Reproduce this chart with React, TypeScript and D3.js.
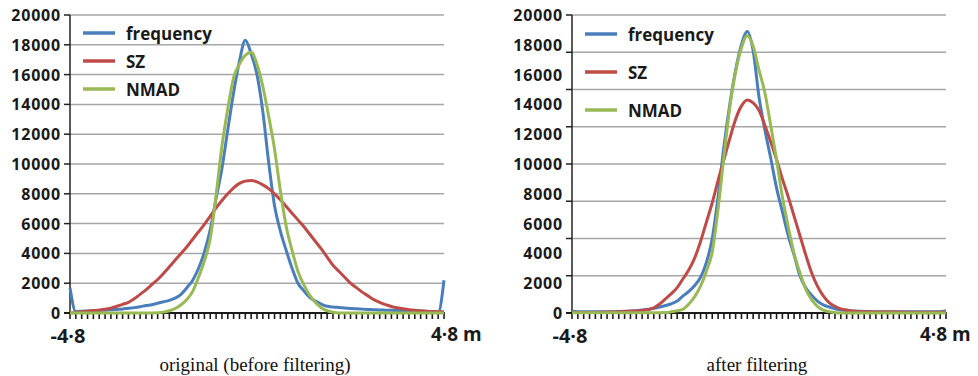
import React from "react";
import * as d3 from "d3";

// 65 bins from -4.8 m to 4.8 m
const bins = d3.range(65);
const yTicks = d3.range(0, 20001, 2000);
const seriesNames = ["frequency", "SZ", "NMAD"];
const seriesColors = ["#4a7ebb", "#be4b48", "#98b954"];

// original (before filtering)
const freqBefore = [
  1700, 100, 120, 140, 150, 170, 190, 210, 240, 270, 320, 360, 420, 500, 560, 650, 750, 850, 1000, 1250,
  1700, 2200, 3000, 4100, 5600, 7700, 9700, 12300, 14800, 16900, 18300, 17400, 16000, 13500, 10100, 7200, 5500, 4200, 3000, 2000,
  1500, 1050, 800, 600, 450, 400, 370, 340, 310, 280, 260, 240, 220, 200, 190, 180, 170, 160, 150, 140,
  130, 120, 60, 20, 2200,
];
const szBefore = [
  0, 30, 80, 120, 160, 200, 250, 330, 450, 580, 720, 950, 1250, 1550, 1900, 2250, 2650, 3100, 3550, 4000,
  4450, 4950, 5450, 5950, 6500, 7050, 7550, 8000, 8400, 8700, 8850, 8900, 8800, 8600, 8350, 8000, 7600, 7150, 6700, 6250,
  5800, 5300, 4800, 4300, 3750, 3200, 2800, 2400, 2000, 1700, 1400, 1150, 900, 720, 560, 440, 350, 280, 220, 180,
  150, 120, 100, 90, 80,
];
const nmadBefore = [
  0, 0, 0, 0, 0, 0, 0, 0, 0, 0, 0, 0, 0, 0, 0, 20, 60, 150, 300, 550,
  900, 1450, 2400, 3500, 5000, 7900, 11200, 13700, 15800, 16700, 17300, 17500, 16700, 15200, 13200, 11000, 8200, 5800, 4200, 2800,
  1900, 1200, 700, 350, 150, 50, 0, 0, 0, 0, 0, 0, 0, 0, 0, 0, 0, 0, 0, 0,
  0, 0, 0, 0, 0,
];

// after filtering
const freqAfter = [
  120, 90, 80, 80, 80, 80, 90, 90, 100, 110, 130, 150, 200, 250, 310, 400, 500, 620, 800, 1150,
  1450, 1850, 2400, 3400, 5000, 7800, 11200, 14000, 16300, 18000, 18900, 17600, 14500, 12300, 10400, 8400, 6800, 5200, 3900, 2500,
  1700, 1200, 800, 540, 400, 280, 200, 170, 140, 120, 100, 90, 80, 80, 80, 80, 80, 80, 80, 80,
  80, 80, 80, 80, 150,
];
const szAfter = [
  30, 30, 30, 40, 40, 50, 60, 70, 80, 100, 120, 140, 170, 220, 350, 600, 950, 1300, 1700, 2300,
  2900, 3700, 4800, 6100, 7400, 8900, 10300, 11700, 13000, 13900, 14300, 14100, 13600, 12600, 11500, 10300, 9000, 7800, 6500, 5200,
  3900, 2700, 1800, 1150, 700, 450, 280, 200, 130, 100, 80, 80, 70, 70, 60, 60, 60, 50, 50, 50,
  50, 50, 50, 50, 50,
];
const nmadAfter = [
  20, 20, 20, 20, 20, 20, 20, 20, 20, 20, 20, 20, 20, 20, 20, 20, 30, 80, 150, 250,
  600, 1100, 1800, 2800, 4100, 7000, 10500, 13800, 16200, 17800, 18600, 17900, 16300, 14800, 12600, 10300, 7800, 5800, 4000, 2700,
  1600, 900, 450, 200, 80, 30, 0, 0, 0, 0, 0, 0, 0, 0, 0, 0, 0, 0, 0, 0,
  0, 0, 0, 0, 0,
];

const sans = "'Open Sans', 'DejaVu Sans', sans-serif";

type PanelProps = {
  left: number;
  right: number;
  series: number[][];
  gridStep: number;
  legendTop: number;
  legendGap: number;
  caption: string;
  captionX: number;
  endLabelX: number;
};

const Panel = ({ left, right, series, gridStep, legendTop, legendGap, caption, captionX, endLabelX }: PanelProps) => {
  const x = d3.scaleLinear().domain([0, bins.length - 1]).range([left, right]);
  const y = d3.scaleLinear().domain([0, 20000]).range([313, 15]);
  const line = d3
    .line<number>()
    .x((_, i) => x(i))
    .y((d) => y(d))
    .curve(d3.curveMonotoneX);
  const grid = d3.range(gridStep, 20001, gridStep);

  return (
    <g>
      {grid.map((g) => (
        <g key={g}>
          <line x1={left} x2={right} y1={y(g)} y2={y(g)} stroke="#a6a6a6" strokeWidth={1.5} />
          <line x1={left - 6} x2={left} y1={y(g)} y2={y(g)} stroke="#222" strokeWidth={1.5} />
        </g>
      ))}
      {yTicks.map((t) => (
        <text
          key={t}
          x={left - 9}
          y={y(t)}
          textAnchor="end"
          dominantBaseline="central"
          fontFamily={sans}
          fontWeight="bold"
          fontSize={16}
          letterSpacing={0.8}
          fill="#1a1a1a"
        >
          {t}
        </text>
      ))}
      {bins.map((b) => (
        <line key={b} x1={x(b)} x2={x(b)} y1={312} y2={319} stroke="#1a1a1a" strokeWidth={1.6} />
      ))}
      <line x1={left} x2={left} y1={15} y2={314} stroke="#222" strokeWidth={1.5} />
      <line x1={left - 6} x2={right} y1={313} y2={313} stroke="#1a1a1a" strokeWidth={2.2} />
      {series.map((s, k) => (
        <path key={k} d={line(s) ?? ""} fill="none" stroke={seriesColors[k]} strokeWidth={3} strokeLinejoin="round" />
      ))}
      {seriesNames.map((name, k) => (
        <g key={name} transform={`translate(${left + 13},${legendTop + k * legendGap})`}>
          <line x1={0} x2={32} y1={0} y2={0} stroke={seriesColors[k]} strokeWidth={3.5} />
          <text x={43} y={0} dominantBaseline="central" fontFamily={sans} fontWeight="bold" fontSize={17} fill="#1a1a1a">
            {name}
          </text>
        </g>
      ))}
      <text x={left - 2} y={343} textAnchor="middle" fontFamily={sans} fontWeight="bold" fontSize={20} fill="#1a1a1a">
        -4·8
      </text>
      <text x={endLabelX} y={341} textAnchor="start" fontFamily={sans} fontWeight="bold" fontSize={19} fill="#1a1a1a">
        4·8 m
      </text>
      <text
        x={captionX}
        y={371}
        textAnchor="middle"
        fontFamily="'Liberation Serif', 'Times New Roman', serif"
        fontSize={19}
        fill="#111"
      >
        {caption}
      </text>
    </g>
  );
};

export default function App() {
  return (
    <svg
      width={978}
      height={376}
      viewBox="0 0 978 376"
      style={{ position: "absolute", left: 0, top: 0, background: "#fff" }}
    >
      <rect width={978} height={376} fill="#fff" />
      <Panel
        left={70}
        right={444}
        series={[freqBefore, szBefore, nmadBefore]}
        gridStep={2000}
        legendTop={33}
        legendGap={28}
        caption="original (before filtering)"
        captionX={255}
        endLabelX={431}
      />
      <Panel
        left={572}
        right={946}
        series={[freqAfter, szAfter, nmadAfter]}
        gridStep={2500}
        legendTop={34}
        legendGap={38}
        caption="after filtering"
        captionX={757}
        endLabelX={920}
      />
    </svg>
  );
}
